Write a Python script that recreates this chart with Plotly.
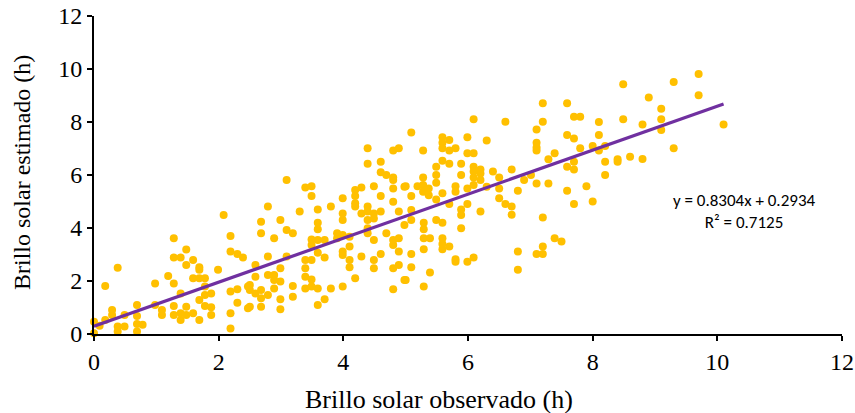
import plotly.graph_objects as go

obs_x = [
 0.00,0.00,0.09,0.18,0.18,0.29,0.29,0.38,0.38,0.38,0.49,0.49,0.69,0.69,0.69,0.69,0.78,0.98,0.98,1.09,1.09,1.19,
 1.28,1.28,1.28,1.28,1.28,1.39,1.39,1.39,1.39,1.48,1.48,1.48,1.48,1.59,1.59,1.59,1.69,1.69,1.69,1.69,1.69,
 1.78,1.78,1.78,1.78,1.88,1.88,1.88,1.99,2.08,2.19,2.19,2.19,2.19,2.19,2.30,2.30,2.30,2.39,2.47,2.47,
 2.50,2.50,2.50,2.59,2.59,2.59,2.68,2.68,2.68,2.68,2.68,2.79,2.79,2.79,2.79,2.89,2.89,2.89,2.89,
 2.99,2.99,2.99,2.99,2.99,3.09,3.09,3.09,3.19,3.19,3.19,3.30,3.39,3.39,3.39,3.39,3.39,
 3.49,3.49,3.49,3.49,3.49,3.49,3.49,3.59,3.59,3.59,3.59,3.59,3.59,3.59,3.70,3.70,3.70,3.80,3.80,3.90,3.90,
 3.99,3.99,3.99,3.99,3.99,3.99,3.99,4.10,4.10,4.10,4.10,4.19,4.19,4.19,4.19,4.19,4.29,4.29,4.29,
 4.39,4.39,4.39,4.39,4.39,4.49,4.49,4.49,4.49,4.49,4.49,4.60,4.60,4.60,4.69,4.80,4.80,4.80,4.80,4.80,4.80,4.80,
 4.89,4.89,4.89,4.89,5.00,5.00,
 4.39,4.39,4.60,4.60,4.69,4.80,4.80,4.89,
 4.98,4.98,4.98,5.09,5.09,5.09,5.09,5.09,5.19,5.28,5.28,5.29,5.29,5.29,5.29,5.29,5.37,5.37,5.39,5.39,
 5.49,5.49,5.49,5.59,5.59,5.59,5.59,5.59,5.70,5.70,5.80,5.80,5.80,5.80,5.89,5.89,5.89,5.99,5.99,5.99,
 6.09,6.09,6.20,6.30,6.50,6.50,6.60,6.70,6.70,6.80,6.80,6.80,6.90,7.10,7.10,7.20,7.20,7.20,7.29,7.39,7.50,7.59,
 5.09,5.28,5.28,5.49,5.49,5.59,5.59,5.59,5.59,5.70,5.70,5.70,5.80,5.89,5.89,5.99,5.99,6.09,6.09,6.09,6.09,6.09,
 6.20,6.20,6.20,6.30,6.40,6.50,6.60,6.70,7.01,7.10,7.10,7.10,7.10,7.20,7.20,7.29,7.39,7.59,7.59,7.59,
 7.70,7.70,7.70,7.70,7.80,7.80,7.90,8.00,8.10,8.10,8.10,8.20,8.20,8.20,8.40,8.40,8.49,8.49,8.60,8.80,8.80,
 8.90,9.10,9.10,9.10,9.30,9.30,9.70,9.70,10.10,7.70,8.00
]

est_y = [
 0.46,0.03,0.31,1.81,0.53,0.91,0.72,2.50,0.28,0.09,0.72,0.28,1.09,0.68,0.38,0.09,0.35,1.91,1.09,0.91,0.72,2.19,
 3.61,2.89,1.91,1.06,0.72,2.89,1.53,0.78,0.53,3.19,2.60,1.03,0.72,2.79,2.10,0.78,2.52,2.42,2.10,1.28,0.53,
 2.10,1.79,1.47,1.06,1.53,1.01,0.72,2.42,4.49,3.70,3.11,1.60,0.78,0.21,3.02,1.69,1.18,2.89,1.79,0.97,
 1.66,1.03,1.85,2.60,2.16,1.53,4.24,3.80,1.66,1.35,1.03,4.81,2.92,2.23,1.47,3.61,2.23,2.04,1.72,
 4.30,2.48,1.98,1.31,0.93,5.81,3.92,2.92,3.80,1.81,1.41,4.62,5.53,2.79,2.48,2.16,1.72,
 5.58,5.21,3.57,3.36,2.79,2.06,1.79,4.70,4.20,3.95,3.55,3.07,1.72,1.09,3.55,2.89,1.31,4.81,1.72,3.80,3.61,
 5.12,4.55,4.30,3.74,3.11,2.98,1.79,3.67,3.30,2.79,2.52,5.43,5.21,4.93,4.81,2.10,5.53,4.55,2.92,
 4.81,4.62,4.30,3.99,3.80,5.58,4.55,4.36,3.55,2.79,2.48,5.21,4.62,3.02,3.80,5.81,5.49,4.99,3.55,3.36,2.48,1.69,
 4.62,3.61,3.11,2.60,5.58,2.04,
 7.01,6.42,6.50,6.10,6.00,6.92,5.91,7.01,
 5.56,4.11,2.04,5.21,4.68,4.30,3.02,2.52,5.58,5.62,5.37,4.20,3.95,3.61,3.20,1.79,5.49,5.24,3.61,2.32,
 5.71,5.08,4.30,5.31,4.20,3.61,3.40,3.20,4.91,3.30,5.58,5.37,2.82,2.73,4.70,4.49,3.99,5.49,4.91,2.73,
 5.62,2.89,4.62,5.56,5.49,5.12,4.91,4.81,4.50,5.41,3.11,2.42,5.81,5.68,3.02,4.40,3.30,3.02,5.68,3.61,3.49,5.41,
 7.60,6.92,5.91,6.31,6.00,7.42,7.22,7.01,6.54,7.32,6.92,6.42,7.01,6.42,6.00,7.42,6.82,8.10,6.82,6.31,6.13,5.91,
 6.21,6.06,5.81,7.30,6.13,5.91,8.01,6.21,6.00,7.72,7.22,7.04,6.92,8.71,8.01,6.59,6.82,8.71,7.51,6.31,
 8.20,7.38,6.50,6.21,8.20,7.01,5.58,7.09,8.00,7.51,6.92,7.09,6.50,6.00,6.59,6.50,9.42,8.10,6.69,7.91,6.60,
 8.92,8.50,8.10,7.70,9.51,7.01,9.81,9.01,7.91,4.91,5.00
]

slope = 0.8304
intercept = 0.2934
trend_x = [0.0, 10.1]
trend_y = [slope * v + intercept for v in trend_x]

x_ticks = [0, 2, 4, 6, 8, 10, 12]
y_ticks = [0, 2, 4, 6, 8, 10, 12]

serif = "Liberation Serif, Times New Roman, serif"

L, R, T, B = 94, 842, 16, 334  # plot area in pixels
W, H = 855, 413

fig = go.Figure()
fig.add_trace(go.Scatter(
    x=obs_x, y=est_y, mode="markers",
    marker=dict(color="#FFC000", size=8, line=dict(width=0)),
    cliponaxis=False, showlegend=False))
fig.add_trace(go.Scatter(
    x=trend_x, y=trend_y, mode="lines",
    line=dict(color="#7030A0", width=3.2),
    cliponaxis=False, showlegend=False))

axis_common = dict(
    range=[0, 12], showgrid=False, zeroline=False, automargin=False,
    showline=True, linecolor="black", linewidth=2,
    ticks="outside", ticklen=5, tickwidth=1.5, tickcolor="black",
    tickfont=dict(family=serif, size=24, color="black"),
    fixedrange=True)

def px_x(p):
    return (p - L) / (R - L)

def px_y(p):
    return (B - p) / (B - T)

fig.update_layout(
    width=W, height=H,
    margin=dict(l=L, r=W - R, t=T, b=H - B),
    paper_bgcolor="white", plot_bgcolor="white",
    xaxis=dict(tickvals=x_ticks, **axis_common),
    yaxis=dict(tickvals=y_ticks, **axis_common),
    annotations=[
        dict(text="Brillo solar observado (h)", xref="paper", yref="paper",
             x=px_x(439), y=px_y(399),
             showarrow=False, font=dict(family=serif, size=26, color="black"),
             xanchor="center", yanchor="middle"),
        dict(text="Brillo solar estimado (h)", xref="paper", yref="paper",
             x=px_x(22), y=px_y(173), textangle=-90,
             showarrow=False, font=dict(family=serif, size=24, color="black"),
             xanchor="center", yanchor="middle"),
        dict(text="y = 0.8304x + 0.2934<br>R² = 0.7125", xref="paper", yref="paper",
             x=px_x(744), y=px_y(211),
             showarrow=False, align="center",
             font=dict(family="Carlito, Liberation Sans, Arial, sans-serif", size=17, color="black"),
             xanchor="center", yanchor="middle"),
    ],
)

fig.write_html("out.html")
